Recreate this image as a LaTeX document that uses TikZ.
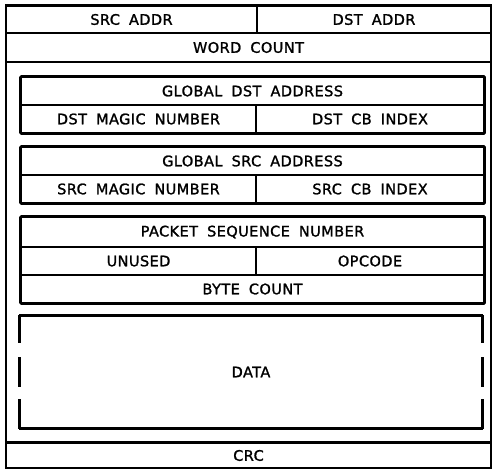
\documentclass[tikz,border=0pt]{standalone}
\usepackage{fontspec}
\newfontfamily\plotfont[LetterSpace=3,WordSpace=1.8,FakeBold=1.4]{DejaVu Sans}
\usetikzlibrary{positioning}

\begin{document}
\begin{tikzpicture}[
  x=1pt, y=-1pt,
  field/.style={draw, line width=1.3pt, inner sep=0pt, font=\plotfont\fontsize{14.5}{16}\selectfont},
  group/.style={draw, line width=2.4pt, rounded corners=1pt},
  frame/.style={draw, line width=1.8pt}
]
\useasboundingbox (0,0) rectangle (494,470);

% header words
\node[field, minimum width=251pt, minimum height=27pt] (src) at (131.5,19.5) {SRC ADDR};
\node[field, minimum width=234pt, minimum height=27pt] (dst) at (374,19.5) {DST ADDR};
\node[field, minimum width=485pt, minimum height=29pt] (wc) at (248.5,47.5) {WORD COUNT};
\draw[frame] (src.north west) -- (dst.north east);

% body of the packet
\draw[frame, line width=2.2pt] (6,62) rectangle (491,443);

% destination block
\node[field, minimum width=463pt, minimum height=28pt] (gdst) at (252.5,91) {GLOBAL DST ADDRESS};
\node[field, minimum width=235pt, minimum height=28pt] (dmagic) at (138.5,119) {DST MAGIC NUMBER};
\node[field, minimum width=228pt, minimum height=28pt] (dcb) at (370,119) {DST CB INDEX};
\draw[group] (gdst.north west) rectangle (dcb.south east);

% source block
\node[field, minimum width=463pt, minimum height=28pt] (gsrc) at (252.5,161) {GLOBAL SRC ADDRESS};
\node[field, minimum width=235pt, minimum height=28pt] (smagic) at (138.5,189) {SRC MAGIC NUMBER};
\node[field, minimum width=228pt, minimum height=28pt] (scb) at (370,189) {SRC CB INDEX};
\draw[group] (gsrc.north west) rectangle (scb.south east);

% packet control block
\node[field, minimum width=463pt, minimum height=30pt] (pseq) at (252.5,232) {PACKET SEQUENCE NUMBER};
\node[field, minimum width=235pt, minimum height=28pt] (unused) at (138.5,261) {UNUSED};
\node[field, minimum width=228pt, minimum height=28pt] (opcode) at (370,261) {OPCODE};
\node[field, minimum width=463pt, minimum height=28pt] (bc) at (252.5,289) {BYTE COUNT};
\draw[group] (pseq.north west) rectangle (bc.south east);

% data, open at the sides
\node[field, draw=none, minimum width=462pt, minimum height=112pt] (data) at (251,372) {DATA};
\draw[group] (data.north west) -- (data.north east);
\draw[group] (data.south west) -- (data.south east);
\draw[group, dash pattern=on 28pt off 14pt on 30pt off 12pt on 30pt] (data.north west) -- (data.south west);
\draw[group, dash pattern=on 28pt off 14pt on 30pt off 12pt on 30pt] (data.north east) -- (data.south east);

% trailer
\node[field, minimum width=485pt, minimum height=25pt] (crc) at (248.5,455.5) {CRC};
\draw[frame] (crc.north west) -- (crc.north east);

\end{tikzpicture}
\end{document}
